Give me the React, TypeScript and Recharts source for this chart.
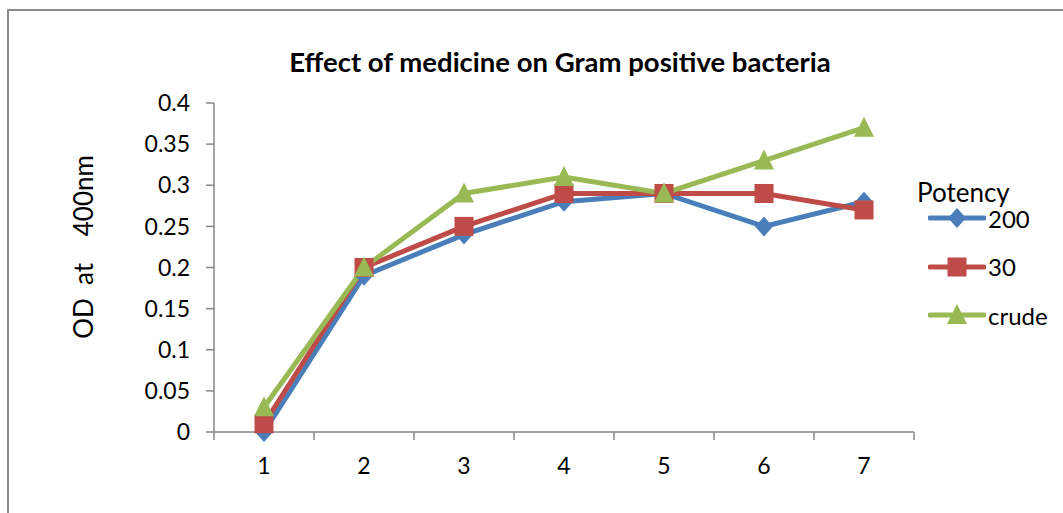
import { LineChart, Line, XAxis, YAxis } from 'recharts';

// values
const days = [1, 2, 3, 4, 5, 6, 7];
const potency200 = [0, 0.19, 0.24, 0.28, 0.29, 0.25, 0.28];
const potency30 = [0.01, 0.2, 0.25, 0.29, 0.29, 0.29, 0.27];
const potencyCrude = [0.03, 0.2, 0.29, 0.31, 0.29, 0.33, 0.37];
const yTicks = [0, 0.05, 0.1, 0.15, 0.2, 0.25, 0.3, 0.35, 0.4];
const yTickLabels = ['0', '0.05', '0.1', '0.15', '0.2', '0.25', '0.3', '0.35', '0.4'];
const xTicks = [0.5, 1, 1.5, 2, 2.5, 3, 3.5, 4, 4.5, 5, 5.5, 6, 6.5, 7, 7.5];

const FONT = 'Lato, "Open Sans", sans-serif';
const AXIS = '#878787';

type Marker = 'diamond' | 'square' | 'triangle';

const seriesList: { key: string; name: string; color: string; marker: Marker }[] = [
  { key: 'p200', name: '200', color: '#4A7EBB', marker: 'diamond' },
  { key: 'p30', name: '30', color: '#BE4B48', marker: 'square' },
  { key: 'crude', name: 'crude', color: '#98B954', marker: 'triangle' },
];

const data = days.map((d, i) => ({
  day: d,
  p200: potency200[i],
  p30: potency30[i],
  crude: potencyCrude[i],
}));

const MarkerShape = ({ cx, cy, type, color }: { cx: number; cy: number; type: Marker; color: string }) => {
  if (type === 'diamond') {
    return <polygon points={`${cx},${cy - 10} ${cx + 9},${cy} ${cx},${cy + 10} ${cx - 9},${cy}`} fill={color} />;
  }
  if (type === 'square') {
    return <rect x={cx - 9.5} y={cy - 9.5} width={19} height={19} fill={color} />;
  }
  return <polygon points={`${cx},${cy - 11} ${cx + 10},${cy + 9} ${cx - 10},${cy + 9}`} fill={color} />;
};

const makeDot = (type: Marker, color: string) => (props: any) => {
  const { cx, cy, index } = props;
  if (cx == null || cy == null) return <g key={index} />;
  return (
    <g key={index}>
      <MarkerShape cx={cx} cy={cy} type={type} color={color} />
    </g>
  );
};

// integer ticks carry the label, half ticks carry the tick mark (Excel-style between categories)
const XTick = (props: any) => {
  const { x, y, payload } = props;
  const v = payload.value as number;
  if (Number.isInteger(v)) {
    return (
      <text x={x} y={y + 42} textAnchor="middle" fontFamily={FONT} fontSize={23} fill="#000">
        {v}
      </text>
    );
  }
  return <line x1={x} y1={y} x2={x} y2={y + 8} stroke={AXIS} strokeWidth={1.5} />;
};

const App = () => {
  return (
    <div
      style={{
        position: 'absolute',
        left: 0,
        top: 0,
        width: 1063,
        height: 513,
        overflow: 'hidden',
        background: '#fff',
      }}
    >
      <div
        style={{
          position: 'absolute',
          left: 7,
          top: 9,
          width: 1200,
          height: 700,
          border: '2px solid #8a8a8a',
        }}
      />
      <div
        style={{
          position: 'absolute',
          left: 0,
          width: 1120,
          top: 45,
          textAlign: 'center',
          fontFamily: FONT,
          fontWeight: 'bold',
          fontSize: 27.5,
          color: '#000',
        }}
      >
        Effect of medicine on Gram positive bacteria
      </div>
      <div
        style={{
          position: 'absolute',
          left: 83,
          top: 247,
          transform: 'translate(-50%, -50%) rotate(-90deg)',
          fontFamily: FONT,
          fontSize: 26,
          whiteSpace: 'pre',
          color: '#000',
        }}
      >
        {'OD  at    400nm'}
      </div>
      <LineChart
        width={1063}
        height={513}
        data={data}
        margin={{ top: 103, right: 149, left: 114, bottom: 41 }}
        style={{ position: 'absolute', left: 0, top: 0 }}
      >
        <XAxis
          dataKey="day"
          type="number"
          domain={[0.5, 7.5]}
          ticks={xTicks}
          interval={0}
          height={40}
          tickSize={0}
          tickMargin={0}
          tickLine={false}
          axisLine={{ stroke: AXIS, strokeWidth: 1.5 }}
          tick={<XTick />}
        />
        <YAxis
          type="number"
          domain={[0, 0.4]}
          ticks={yTicks}
          interval={0}
          width={100}
          tickSize={8}
          tickMargin={16}
          tickFormatter={(v: number) => yTickLabels[yTicks.indexOf(v)] ?? String(v)}
          tick={{ fontFamily: FONT, fontSize: 23, fill: '#000' }}
          tickLine={{ stroke: AXIS, strokeWidth: 1.5 }}
          axisLine={{ stroke: AXIS, strokeWidth: 1.5 }}
        />
        {seriesList.map((s) => (
          <Line
            key={s.key}
            dataKey={s.key}
            name={s.name}
            stroke={s.color}
            strokeWidth={5}
            dot={makeDot(s.marker, s.color)}
            activeDot={false}
            isAnimationActive={false}
          />
        ))}
      </LineChart>
      <div
        style={{
          position: 'absolute',
          left: 917,
          top: 176,
          fontFamily: FONT,
          fontSize: 26,
          color: '#000',
        }}
      >
        Potency
      </div>
      {seriesList.map((s, i) => (
        <div
          key={s.key}
          style={{
            position: 'absolute',
            left: 928,
            top: 218 + i * 48.5 - 15,
            height: 30,
            display: 'flex',
            alignItems: 'center',
            fontFamily: FONT,
            fontSize: 24,
            color: '#000',
          }}
        >
          <svg width={58} height={30}>
            <line x1={2} y1={15} x2={56} y2={15} stroke={s.color} strokeWidth={5} strokeLinecap="round" />
            <MarkerShape cx={29} cy={15} type={s.marker} color={s.color} />
          </svg>
          <span style={{ marginLeft: 2 }}>{s.name}</span>
        </div>
      ))}
    </div>
  );
};

export default App;
